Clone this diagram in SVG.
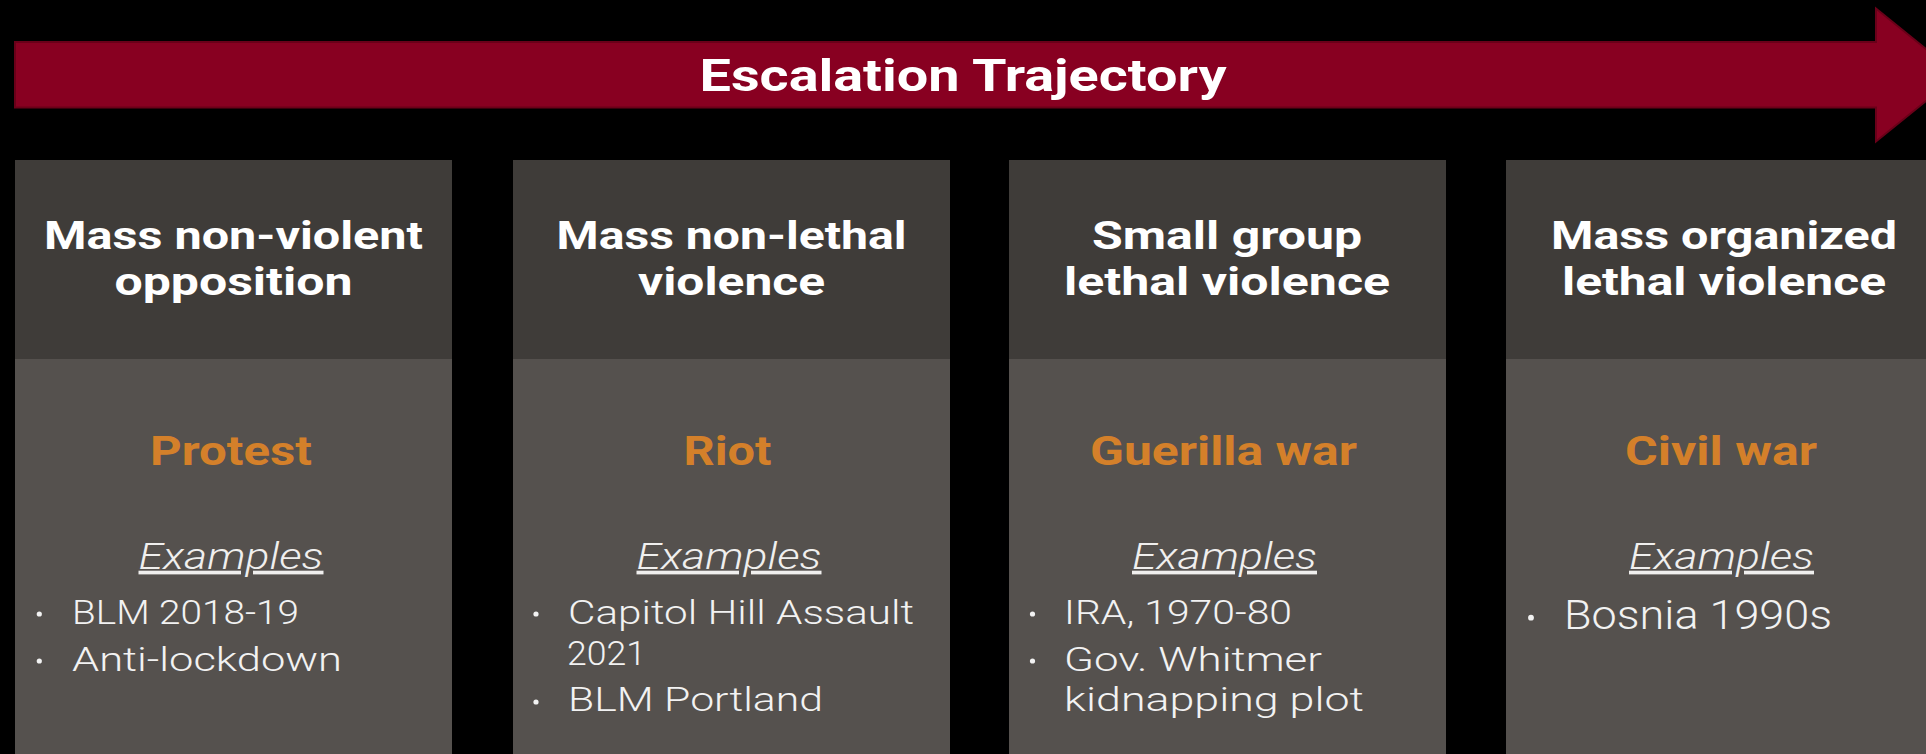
<svg xmlns="http://www.w3.org/2000/svg" width="1926" height="754" viewBox="0 0 1926 754">
<style>
.hd{fill:#3f3c39}
.bd{fill:#55514e}
.h{font-family:Roboto,"Liberation Sans",sans-serif;font-weight:700;font-size:39px;fill:#ffffff;text-anchor:middle}
.o{font-family:Roboto,"Liberation Sans",sans-serif;font-weight:700;font-size:40px;fill:#d4802a;text-anchor:middle}
.ex{font-family:Roboto,"Liberation Sans",sans-serif;font-weight:300;font-style:italic;font-size:37px;fill:#f0efee;text-anchor:middle;text-decoration:underline}
.li{font-family:Roboto,"Liberation Sans",sans-serif;font-weight:300;font-size:34px;fill:#f2f2f2}
.lb{font-size:40px}
.dot{fill:#f2f2f2}
</style>
<rect x="0" y="0" width="1926" height="754" fill="#000000"/>
<g id="arrow">
<path d="M15,42 L1876,42 L1876,8.5 L1958,75 L1876,141.5 L1876,107.5 L15,107.5 Z" fill="#880021" stroke="#6a0019" stroke-width="2"/>
<text x="963" y="91" style="font-family:Roboto,'Liberation Sans',sans-serif;font-weight:700;font-size:45px;fill:#ffffff;text-anchor:middle" textLength="527" lengthAdjust="spacingAndGlyphs">Escalation Trajectory</text>
</g>
<g id="connectors"></g>
<g id="box-protest">
<rect class="hd" x="15" y="160" width="437" height="199"/>
<rect class="bd" x="15" y="359" width="437" height="395"/>
<text class="h" x="233.5" y="248.5" textLength="379" lengthAdjust="spacingAndGlyphs">Mass non-violent</text>
<text class="h" x="233.5" y="295" textLength="238" lengthAdjust="spacingAndGlyphs">opposition</text>
<text class="o" x="231" y="465" textLength="162" lengthAdjust="spacingAndGlyphs">Protest</text>
<text class="ex" x="231" y="568.7" textLength="185" lengthAdjust="spacingAndGlyphs">Examples</text>
<circle class="dot" cx="39.3" cy="614" r="2.6"/>
<text class="li" x="72" y="623.7" textLength="227" lengthAdjust="spacingAndGlyphs">BLM 2018-19</text>
<circle class="dot" cx="39.3" cy="661" r="2.6"/>
<text class="li" x="72" y="671" textLength="270" lengthAdjust="spacingAndGlyphs">Anti-lockdown</text>
</g>
<g id="box-riot">
<rect class="hd" x="513" y="160" width="437" height="199"/>
<rect class="bd" x="513" y="359" width="437" height="395"/>
<text class="h" x="731.5" y="248.5" textLength="350" lengthAdjust="spacingAndGlyphs">Mass non-lethal</text>
<text class="h" x="731.5" y="295" textLength="187" lengthAdjust="spacingAndGlyphs">violence</text>
<text class="o" x="727.5" y="465" textLength="88" lengthAdjust="spacingAndGlyphs">Riot</text>
<text class="ex" x="729" y="568.7" textLength="185" lengthAdjust="spacingAndGlyphs">Examples</text>
<circle class="dot" cx="536" cy="614" r="2.6"/>
<text class="li" x="568" y="624" textLength="346" lengthAdjust="spacingAndGlyphs">Capitol Hill Assault</text>
<text class="li" x="567" y="664.5" textLength="79" lengthAdjust="spacingAndGlyphs">2021</text>
<circle class="dot" cx="536" cy="702" r="2.6"/>
<text class="li" x="568" y="711" textLength="255" lengthAdjust="spacingAndGlyphs">BLM Portland</text>
</g>
<g id="box-guerilla">
<rect class="hd" x="1009" y="160" width="437" height="199"/>
<rect class="bd" x="1009" y="359" width="437" height="395"/>
<text class="h" x="1227" y="248.5" textLength="270" lengthAdjust="spacingAndGlyphs">Small group</text>
<text class="h" x="1227" y="295" textLength="326" lengthAdjust="spacingAndGlyphs">lethal violence</text>
<text class="o" x="1223.5" y="465" textLength="267" lengthAdjust="spacingAndGlyphs">Guerilla war</text>
<text class="ex" x="1224.5" y="568.7" textLength="185" lengthAdjust="spacingAndGlyphs">Examples</text>
<circle class="dot" cx="1032.5" cy="614" r="2.6"/>
<text class="li" x="1064" y="624" textLength="228" lengthAdjust="spacingAndGlyphs">IRA, 1970-80</text>
<circle class="dot" cx="1032.5" cy="661" r="2.6"/>
<text class="li" x="1064" y="671" textLength="258" lengthAdjust="spacingAndGlyphs">Gov. Whitmer</text>
<text class="li" x="1064" y="711" textLength="300" lengthAdjust="spacingAndGlyphs">kidnapping plot</text>
</g>
<g id="box-civil">
<rect class="hd" x="1506" y="160" width="437" height="199"/>
<rect class="bd" x="1506" y="359" width="437" height="395"/>
<text class="h" x="1724" y="248.5" textLength="346" lengthAdjust="spacingAndGlyphs">Mass organized</text>
<text class="h" x="1724" y="295" textLength="324" lengthAdjust="spacingAndGlyphs">lethal violence</text>
<text class="o" x="1721" y="465" textLength="192" lengthAdjust="spacingAndGlyphs">Civil war</text>
<text class="ex" x="1721.5" y="568.7" textLength="185" lengthAdjust="spacingAndGlyphs">Examples</text>
<circle class="dot" cx="1531" cy="617.7" r="2.9"/>
<text class="li lb" x="1564" y="628.7" textLength="268" lengthAdjust="spacingAndGlyphs">Bosnia 1990s</text>
</g>
</svg>
